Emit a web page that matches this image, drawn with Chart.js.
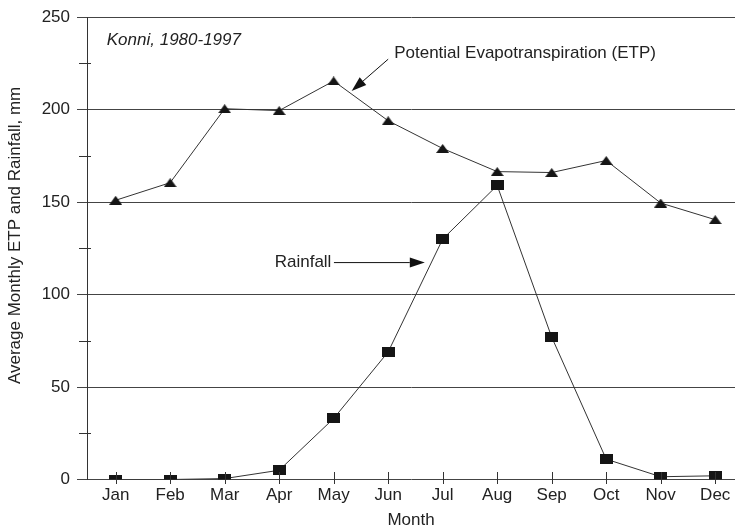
<!DOCTYPE html>
<html>
<head>
<meta charset="utf-8">
<script src="https://cdn.jsdelivr.net/npm/chart.js@4/dist/chart.umd.min.js"></script>
<style>
  html, body { margin: 0; padding: 0; background: #fff; }
  #wrap { width: 743px; height: 531px; }
</style>
</head>
<body>
<div id="wrap"><canvas id="c" width="743" height="531"></canvas></div>
<script>
// Monthly averages, Konni 1980-1997 (mm)
const months = ['Jan', 'Feb', 'Mar', 'Apr', 'May', 'Jun', 'Jul', 'Aug', 'Sep', 'Oct', 'Nov', 'Dec'];
const etp = [151, 160.5, 200.5, 199.5, 215.5, 194, 179, 166.5, 166, 172.5, 149.5, 140.5];
const rainfall = [0, 0, 0.5, 5, 33, 69, 130, 159, 77, 11, 1.5, 2];
const yTicks = [0, 50, 100, 150, 200, 250];
const yMinorTicks = [25, 75, 125, 175, 225];

const INK = '#222';
const LINE = '#333';
const FONT = '"Liberation Sans", Arial, Helvetica, sans-serif';

// Annotation anchors, in axis units (month index, mm)
const stationNote = { text: 'Konni, 1980-1997', x: -0.163, y: 237.6 };
const etpNote = { text: 'Potential Evapotranspiration (ETP)', x: 5.11, y: 230.6,
                  from: [5.0, 227.3], to: [4.33, 210.1] };
const rainNote = { text: 'Rainfall', x: 2.918, y: 117.3,
                   from: [4.005, 117.3], to: [5.672, 117.3] };

function marker(w, h, paint) {
  const c = document.createElement('canvas');
  c.width = w; c.height = h;
  const g = c.getContext('2d');
  g.fillStyle = '#151515';
  paint(g, w, h);
  return c;
}
const triangle = marker(13, 9, (g, w, h) => {
  g.beginPath(); g.moveTo(0, h); g.lineTo(w / 2, 0); g.lineTo(w, h); g.closePath(); g.fill();
});
const square = marker(13, 10, (g, w, h) => g.fillRect(0, 0, w, h));

function arrow(ctx, x1, y1, x2, y2, len, half) {
  const ang = Math.atan2(y2 - y1, x2 - x1);
  const bx = x2 - len * Math.cos(ang), by = y2 - len * Math.sin(ang);
  ctx.beginPath();
  ctx.moveTo(x1, y1); ctx.lineTo(bx, by); ctx.stroke();
  ctx.beginPath();
  ctx.moveTo(x2, y2);
  ctx.lineTo(bx + half * Math.sin(ang), by - half * Math.cos(ang));
  ctx.lineTo(bx - half * Math.sin(ang), by + half * Math.cos(ang));
  ctx.closePath(); ctx.fill();
}

const decor = {
  id: 'decor',
  afterDraw(chart) {
    const { ctx, chartArea: a, scales: { x, y } } = chart;
    ctx.save();
    ctx.strokeStyle = LINE; ctx.fillStyle = INK; ctx.lineWidth = 1;

    // short cross ticks on the value axis and the month axis
    ctx.beginPath();
    yMinorTicks.forEach(v => {
      const py = Math.round(y.getPixelForValue(v)) + 0.5;
      ctx.moveTo(a.left - 8, py); ctx.lineTo(a.left + 4, py);
    });
    months.forEach((m, i) => {
      const px = Math.round(x.getPixelForValue(i)) + 0.5;
      ctx.moveTo(px, a.bottom - 7.5); ctx.lineTo(px, a.bottom + 4.5);
    });
    ctx.stroke();

    // notes
    ctx.textBaseline = 'middle'; ctx.textAlign = 'left';
    ctx.font = 'italic 17px ' + FONT;
    ctx.fillText(stationNote.text, x.getPixelForValue(stationNote.x), y.getPixelForValue(stationNote.y));
    ctx.font = '17px ' + FONT;
    [etpNote, rainNote].forEach(n => {
      ctx.fillText(n.text, x.getPixelForValue(n.x), y.getPixelForValue(n.y));
      ctx.fillStyle = '#111'; ctx.strokeStyle = '#111';
      arrow(ctx, x.getPixelForValue(n.from[0]), y.getPixelForValue(n.from[1]),
                 x.getPixelForValue(n.to[0]), y.getPixelForValue(n.to[1]), 15, 5);
      ctx.fillStyle = INK;
    });

    // value axis title
    ctx.translate(15, a.top + (a.bottom - a.top) * 0.472);
    ctx.rotate(-Math.PI / 2);
    ctx.textAlign = 'center';
    ctx.fillStyle = INK;
    ctx.fillText('Average Monthly ETP and Rainfall, mm', 0, 0);
    ctx.restore();
  }
};

new Chart(document.getElementById('c'), {
  type: 'line',
  data: {
    datasets: [
      {
        label: 'Potential Evapotranspiration (ETP)',
        data: etp.map((v, i) => ({ x: i, y: v })),
        borderColor: LINE, borderWidth: 1, tension: 0,
        pointStyle: triangle, pointRadius: 7
      },
      {
        label: 'Rainfall',
        data: rainfall.map((v, i) => ({ x: i, y: v })),
        borderColor: LINE, borderWidth: 1, tension: 0,
        pointStyle: square, pointRadius: 7,
        clip: { left: false, top: false, right: false, bottom: 0 }
      }
    ]
  },
  options: {
    responsive: false,
    animation: false,
    devicePixelRatio: 1,
    events: [],
    layout: { padding: { top: 16, right: 0, left: 0, bottom: 0 } },
    plugins: { legend: { display: false }, tooltip: { enabled: false } },
    scales: {
      x: {
        type: 'linear',
        min: -0.5255, max: 11.363,
        afterBuildTicks: s => { s.ticks = months.map((m, i) => ({ value: i })); },
        afterFit: s => { s.height = 51.5; },
        ticks: {
          callback: v => months[v] ?? '',
          color: INK, font: { family: FONT, size: 17 }, padding: 6,
          maxRotation: 0, autoSkip: false
        },
        grid: { drawOnChartArea: false, drawTicks: false },
        border: { display: false },
        title: { display: true, text: 'Month', color: INK,
                 font: { family: FONT, size: 17 }, padding: { top: 0, bottom: 0 } }
      },
      y: {
        min: 0, max: 250,
        afterBuildTicks: s => { s.ticks = yTicks.map(v => ({ value: v })); },
        afterFit: s => { s.width = 87; },
        ticks: { color: INK, font: { family: FONT, size: 17 }, padding: 7 },
        grid: { color: '#444', lineWidth: 1, tickLength: 10, drawTicks: true },
        border: { display: true, color: LINE, width: 1 }
      }
    }
  },
  plugins: [decor]
});
</script>
</body>
</html>
